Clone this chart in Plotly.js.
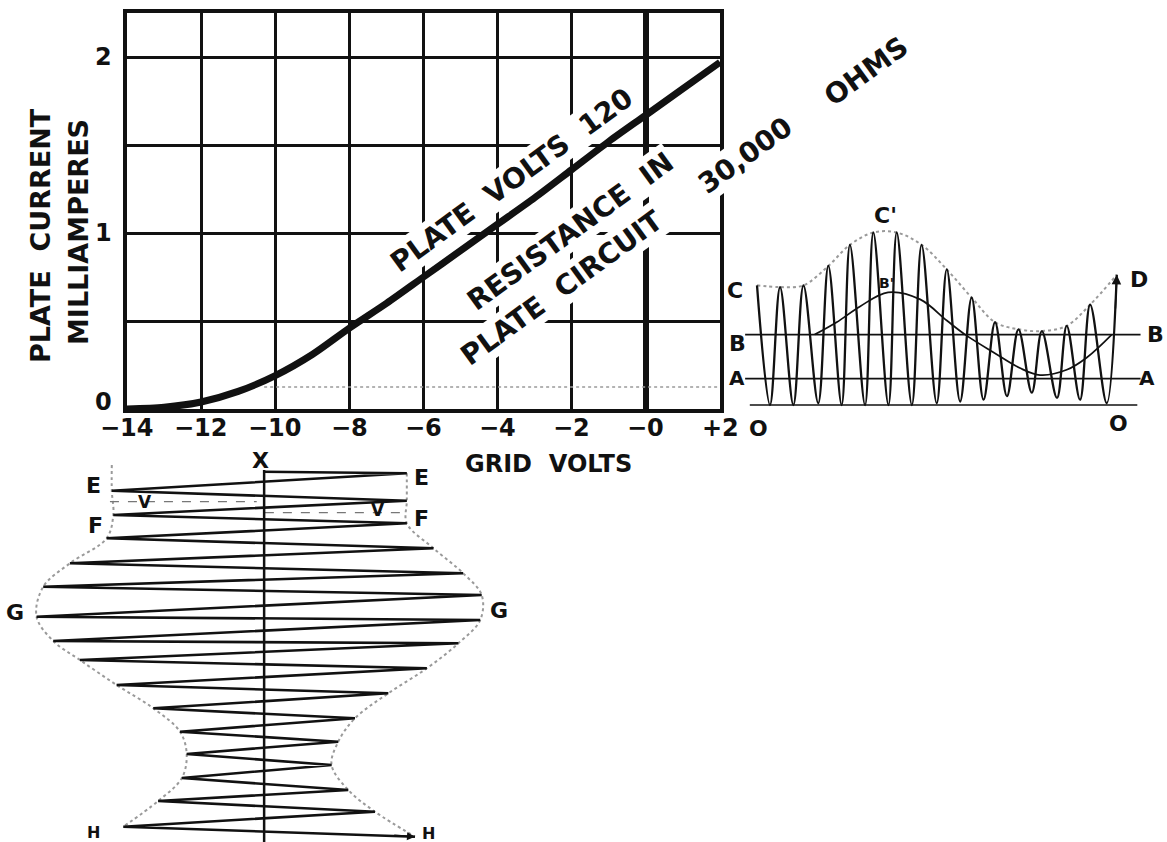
<!DOCTYPE html>
<html>
<head>
<meta charset="utf-8">
<script src="https://cdn.plot.ly/plotly-3.0.1.min.js"></script>
<style>html,body{margin:0;padding:0;background:#fff;}#chart{width:1167px;height:842px;}</style>
</head>
<body>
<div id="chart"></div>
<script>
// ---------- Main characteristic: plate current vs grid volts ----------
const gridVolts    = [-14, -13, -12, -11, -10, -9, -8, -7, -6, -5, -4, -3, -2, -1, 0, 1, 2];
const plateCurrent = [0, 0.01, 0.04, 0.10, 0.19, 0.31, 0.46, 0.60, 0.75, 0.90, 1.05, 1.20, 1.36, 1.52, 1.67, 1.82, 1.97];
const xTickVals = [-14, -12, -10, -8, -6, -4, -2, 0, 2];
const xTickText = ['\u221214', '\u221212', '\u221210', '\u22128', '\u22126', '\u22124', '\u22122', '\u22120', '+2'];
const yGridVals = [0, 0.5, 1, 1.5, 2];
const yTickVals = [0, 1, 2];
const yTickText = ['0', '1', '2'];
const biasVolts = -10.3;     // operating grid bias (line X)
const biasCurrent = 0.125;   // dotted operating plate current

// ---------- Right inset: plate current vs time ----------
const peakTime      = [0, 6.4, 12.9, 19.8, 25.8, 32.3, 38.8, 45.7, 52.7, 59.6, 66.1, 72.6, 79.1, 86.0, 92.5, 99.9];
const peakCurrent   = [0.68, 0.67, 0.68, 0.79, 0.91, 0.98, 0.98, 0.91, 0.77, 0.61, 0.47, 0.43, 0.42, 0.45, 0.57, 0.74];
const troughTime    = [3.6, 10.1, 17.0, 23.5, 30.0, 36.5, 43.0, 49.9, 56.4, 62.9, 69.4, 76.3, 83.3, 89.7, 97.1];
const troughCurrent = [0, 0, 0.01, 0, 0, 0, 0, 0.01, 0.02, 0.03, 0.05, 0.07, 0.04, 0.03, 0.01];
const meanTime    = [16, 22.1, 28.6, 36.4, 45.3, 52.7, 57.8, 65.6, 73.0, 78.6, 86.0, 91.6, 98.5];
const meanCurrent = [0.40, 0.47, 0.56, 0.64, 0.60, 0.48, 0.40, 0.30, 0.21, 0.17, 0.20, 0.27, 0.40];
const levelA = 0.15;
const levelB = 0.40;
const insetSpan = [-3.3, 106.5];

// ---------- Lower-left: grid voltage swing vs time (time downward) ----------
const swingVolts = [-10.32, -6.45, -14.41, -6.45, -14.37, -6.45, -14.55, -5.73, -15.54, -4.93, -16.26, -4.43,
                    -16.44, -4.47, -15.99, -5.06, -15.27, -5.91, -14.28, -6.95, -13.29, -7.85, -12.57, -8.30,
                    -12.39, -8.48, -12.52, -8.03, -13.16, -7.31, -14.10, -6.23];
const swingTime  = [0.17, 0.33, 2.07, 3.07, 4.5, 5.33, 6.83, 7.83, 9.33, 10.33, 11.67, 12.5,
                    14.67, 15.0, 17.1, 17.33, 19.0, 19.83, 21.5, 22.33, 23.83, 24.83, 26.17, 27.17,
                    28.4, 29.5, 30.8, 32.0, 33.1, 34.17, 35.67, 36.67];
const meanMarkLeft  = {volts: [-14.46, -10.5], time: [3.17, 3.17]};
const meanMarkRight = {volts: [-10.28, -6.45], time: [4.27, 4.27]};
const swingTimeEnd = 37.2;

// ---------- build traces ----------
const black = '#111';
const dotGrey = '#9a9a9a';
const traces = [];

traces.push({x: [biasVolts, 2], y: [biasCurrent, biasCurrent], mode: 'lines',
  line: {color: dotGrey, width: 1.5, dash: 'dot'}, xaxis: 'x', yaxis: 'y'});
traces.push({x: gridVolts, y: plateCurrent, mode: 'lines',
  line: {color: black, width: 7, shape: 'spline', smoothing: 0.8}, xaxis: 'x', yaxis: 'y'});

// inset
const waveT = [], waveI = [];
for (let i = 0; i < peakTime.length; i++) {
  waveT.push(peakTime[i]); waveI.push(peakCurrent[i]);
  if (i < troughTime.length) { waveT.push(troughTime[i]); waveI.push(troughCurrent[i]); }
}
const insetLine = {color: black, width: 1.7};
traces.push({x: [insetSpan[0] + 1.3, insetSpan[1] - 0.9], y: [0, 0], mode: 'lines', line: insetLine, xaxis: 'x2', yaxis: 'y2'});
traces.push({x: insetSpan, y: [levelA, levelA], mode: 'lines', line: insetLine, xaxis: 'x2', yaxis: 'y2'});
traces.push({x: insetSpan, y: [levelB, levelB], mode: 'lines', line: insetLine, xaxis: 'x2', yaxis: 'y2'});
traces.push({x: peakTime, y: peakCurrent, mode: 'lines',
  line: {color: dotGrey, width: 2, dash: 'dot', shape: 'spline'}, xaxis: 'x2', yaxis: 'y2'});
traces.push({x: meanTime, y: meanCurrent, mode: 'lines',
  line: {color: black, width: 1.7, shape: 'spline'}, xaxis: 'x2', yaxis: 'y2'});
traces.push({x: waveT, y: waveI, mode: 'lines',
  line: {color: black, width: 2.3, shape: 'spline', smoothing: 1}, xaxis: 'x2', yaxis: 'y2'});

// lower-left
const leftV = [], leftT = [], rightV = [], rightT = [];
for (let i = 1; i < swingVolts.length; i++) {
  if (i % 2 === 0) { leftV.push(swingVolts[i]); leftT.push(swingTime[i]); }
  else { rightV.push(swingVolts[i]); rightT.push(swingTime[i]); }
}
traces.push({x: [leftV[0]].concat(leftV), y: [-0.5].concat(leftT), mode: 'lines',
  line: {color: dotGrey, width: 2, dash: 'dot', shape: 'spline'}, xaxis: 'x3', yaxis: 'y3'});
traces.push({x: rightV, y: rightT, mode: 'lines',
  line: {color: dotGrey, width: 2, dash: 'dot', shape: 'spline'}, xaxis: 'x3', yaxis: 'y3'});
traces.push({x: meanMarkLeft.volts, y: meanMarkLeft.time, mode: 'lines',
  line: {color: '#777', width: 1.2, dash: 'dash'}, xaxis: 'x3', yaxis: 'y3'});
traces.push({x: meanMarkRight.volts, y: meanMarkRight.time, mode: 'lines',
  line: {color: '#777', width: 1.2, dash: 'dash'}, xaxis: 'x3', yaxis: 'y3'});
traces.push({x: [biasVolts, biasVolts], y: [0, swingTimeEnd], mode: 'lines',
  line: {color: black, width: 2.5}, xaxis: 'x3', yaxis: 'y3'});
traces.push({x: swingVolts, y: swingTime, mode: 'lines',
  line: {color: black, width: 2.6}, xaxis: 'x3', yaxis: 'y3'});

// ---------- layout ----------
const W = 1167, H = 842;
const FONT = 'DejaVu Sans';
function lbl(text, px, py, size, angle, bg) {
  return {text: text, x: px / W, y: 1 - py / H, xref: 'paper', yref: 'paper',
    xanchor: 'center', yanchor: 'middle', showarrow: false, textangle: angle || 0,
    bgcolor: bg ? '#fff' : 'rgba(0,0,0,0)', borderpad: 1,
    font: {family: FONT, size: size, color: black, weight: 'bold'}};
}
const annotations = [
  lbl('PLATE  CURRENT', 40, 236, 27, -90),
  lbl('MILLIAMPERES', 78, 232, 27, -90),
  lbl('GRID  VOLTS', 548, 464, 24, 0),
  lbl('PLATE  VOLTS  120', 511, 180, 28, -36, true),
  lbl('RESISTANCE  IN', 570, 231, 28, -36, true),
  lbl('PLATE  CIRCUIT', 561, 288, 28, -36, true),
  lbl('30,000', 745, 155, 28, -36, true),
  lbl('OHMS', 866, 72, 28, -36, true),
  // inset labels
  lbl('C', 735, 290, 22), lbl('B', 737, 343, 22), lbl('A', 737, 378, 20),
  lbl('B', 1155, 334, 22), lbl('A', 1147, 378, 20), lbl('D', 1139, 279, 22),
  lbl("C'", 885, 215, 22), lbl("B'", 886, 283, 14),
  lbl('O', 758, 428, 22), lbl('O', 1118, 423, 22),
  // lower-left labels
  lbl('X', 260, 460, 22),
  lbl('E', 93, 485, 22), lbl('E', 421, 477, 22),
  lbl('F', 95, 525, 22), lbl('F', 421, 518, 22),
  lbl('G', 15, 612, 22), lbl('G', 499, 610, 22),
  lbl('H', 93, 832, 16), lbl('H', 428, 833, 16),
  lbl('V', 145, 502, 17), lbl('V', 378, 510, 17),
  // arrow heads at wave ends
  {x: peakTime[peakTime.length - 1], y: peakCurrent[peakCurrent.length - 1], xref: 'x2', yref: 'y2',
   ax: peakTime[peakTime.length - 1] - 0.4, ay: peakCurrent[peakCurrent.length - 1] - 0.2, axref: 'x2', ayref: 'y2',
   showarrow: true, arrowhead: 2, arrowsize: 1.2, arrowwidth: 1.6, arrowcolor: black, text: ''},
  {x: swingVolts[swingVolts.length - 1], y: swingTime[swingTime.length - 1], xref: 'x3', yref: 'y3',
   ax: swingVolts[swingVolts.length - 1] - 0.6, ay: swingTime[swingTime.length - 1] - 0.15, axref: 'x3', ayref: 'y3',
   showarrow: true, arrowhead: 2, arrowsize: 1, arrowwidth: 1.6, arrowcolor: black, text: ''}
];
// tick labels placed through the axis scales
const tickFont = {family: FONT, size: 24, color: black, weight: 'bold'};
xTickVals.forEach(function (v, i) {
  annotations.push({text: xTickText[i], x: v, xref: 'x', y: 1 - 428 / H, yref: 'paper',
    xanchor: 'center', yanchor: 'middle', showarrow: false, font: tickFont});
});
yTickVals.forEach(function (v, i) {
  annotations.push({text: yTickText[i], x: 114 / W, xref: 'paper', y: v, yref: 'y',
    xanchor: 'right', yanchor: 'middle', yshift: v === 0 ? 7 : 0, showarrow: false, font: tickFont});
});

const px2volts = function (px) { return (px - 127) / (593 / 16) - 14; };
const layout = {
  width: W, height: H, margin: {l: 0, r: 0, t: 0, b: 0},
  paper_bgcolor: '#fff', plot_bgcolor: 'rgba(0,0,0,0)', showlegend: false,
  xaxis: {domain: [127 / W, 720 / W], range: [-14, 2], anchor: 'y',
    tickvals: xTickVals, showticklabels: false, ticks: '',
    showgrid: true, gridcolor: black, gridwidth: 3,
    showline: true, linecolor: black, linewidth: 4, mirror: true,
    zeroline: true, zerolinecolor: black, zerolinewidth: 6},
  yaxis: {domain: [1 - 409 / H, 1 - 13 / H], range: [0, 2.25], anchor: 'x',
    tickvals: yGridVals, showticklabels: false, ticks: '',
    showgrid: true, gridcolor: black, gridwidth: 3,
    showline: true, linecolor: black, linewidth: 4, mirror: true, zeroline: false},
  xaxis2: {domain: [730 / W, 1160 / W], range: [-7.5, 111.9], anchor: 'y2', visible: false},
  yaxis2: {domain: [1 - 430 / H, 1 - 13 / H], range: [-0.142, 2.227], anchor: 'x2', visible: false},
  xaxis3: {domain: [0, 520 / W], range: [px2volts(0), px2volts(520)], anchor: 'y3', visible: false},
  yaxis3: {domain: [0, 1 - 440 / H], range: [37.2, -3.0], anchor: 'x3', visible: false},
  annotations: annotations
};

Plotly.newPlot('chart', traces, layout, {staticPlot: true, displayModeBar: false});
</script>
</body>
</html>
